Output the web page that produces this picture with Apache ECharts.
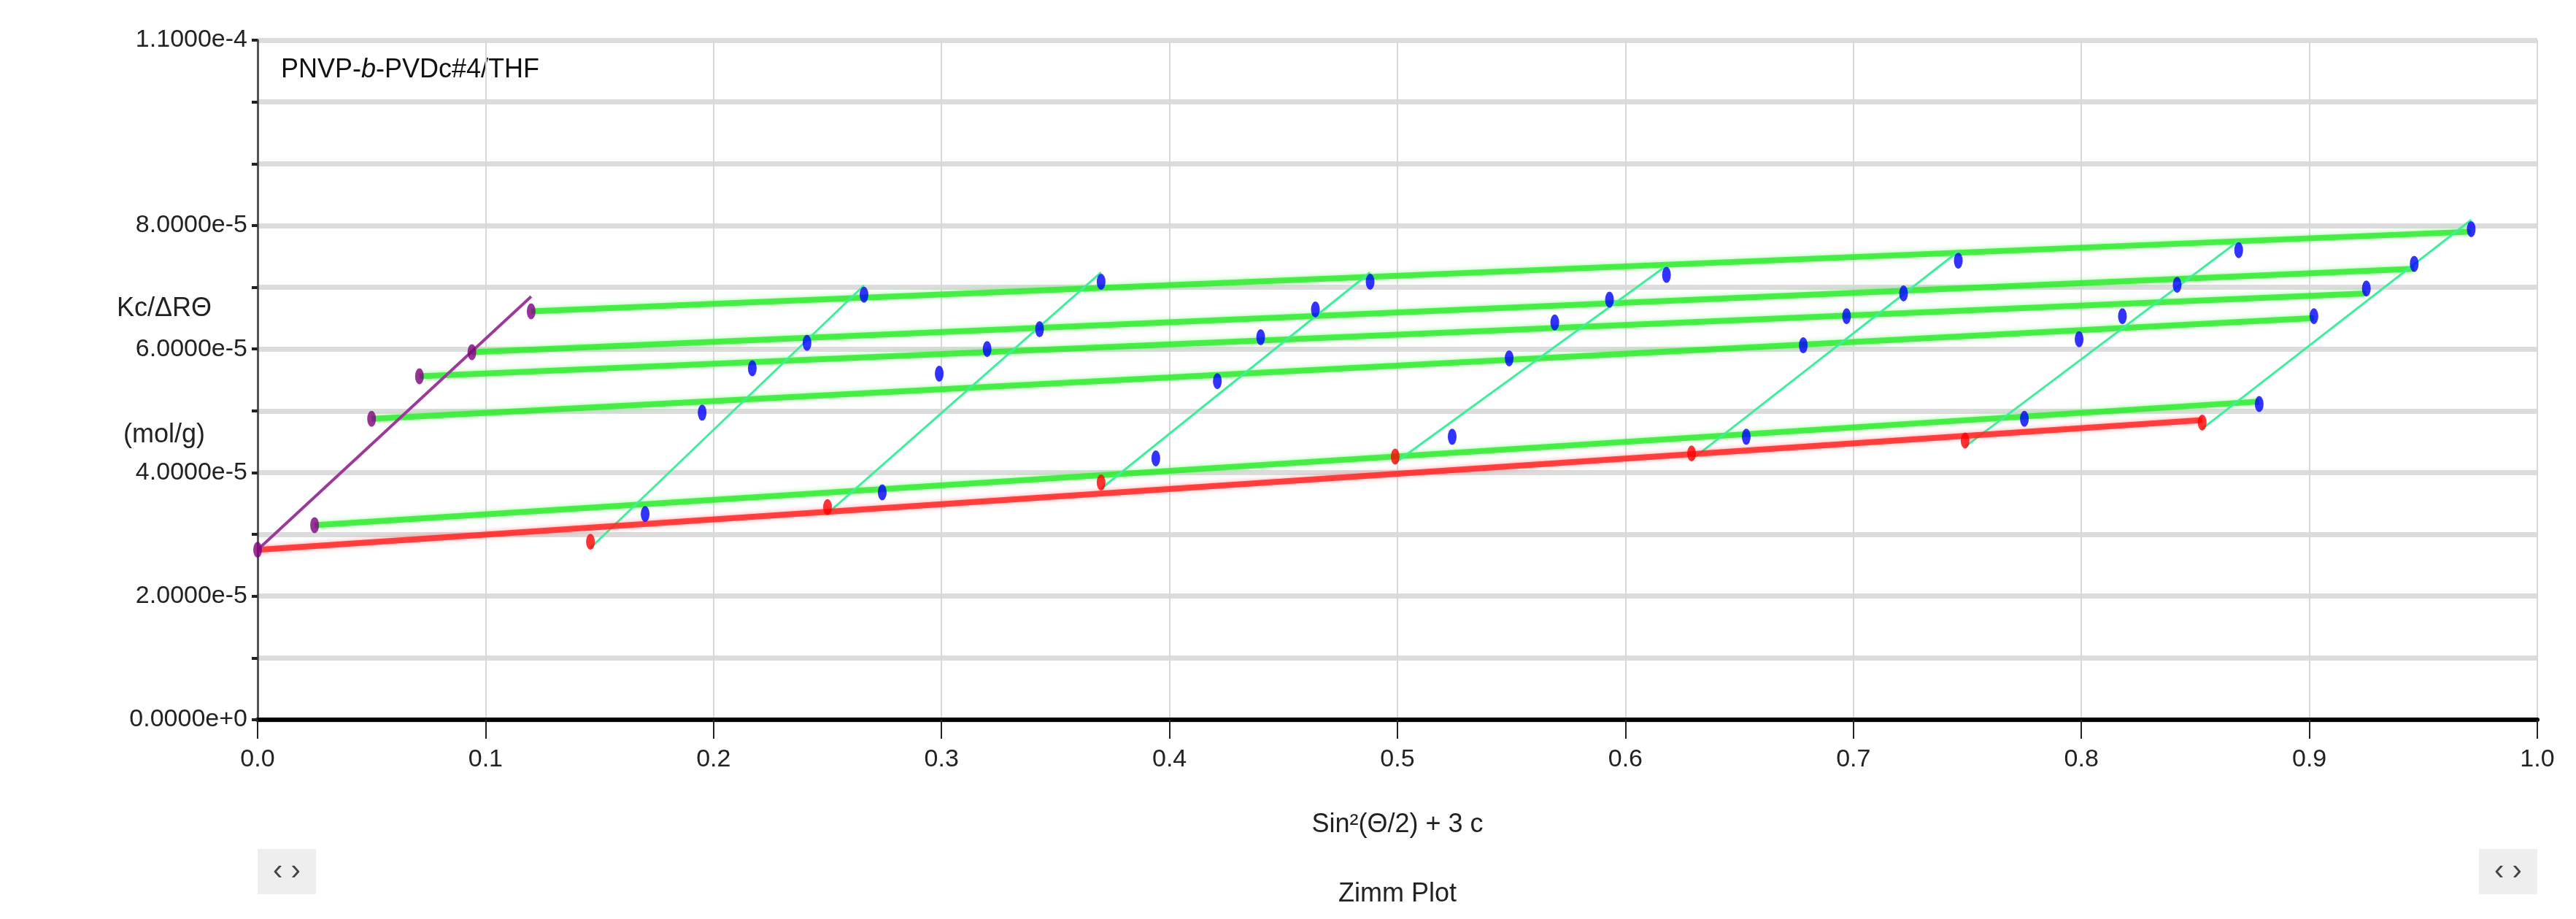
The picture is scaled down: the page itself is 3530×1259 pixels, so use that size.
<!DOCTYPE html>
<html>
<head>
<meta charset="utf-8">
<script src="https://cdn.jsdelivr.net/npm/echarts@6/dist/echarts.min.js"></script>
<style>html,body{margin:0;padding:0;background:#fff}#chart{width:3530px;height:1259px}</style>
</head>
<body>
<div id="chart"></div>
<script>
// values in units of 1e-5 mol/g
var redX = [0.146, 0.25, 0.37, 0.499, 0.629, 0.749, 0.853];
var redY = [2.88, 3.44, 3.84, 4.26, 4.31, 4.52, 4.81];
var purpleX = [0, 0.025, 0.05, 0.071, 0.094, 0.12];
var purpleY = [2.75, 3.15, 4.87, 5.56, 5.95, 6.61];
// blue points, one array per angle column (rows = concentrations 1..5)
var blueX = [
	[0.170, 0.195, 0.217, 0.241, 0.266],
	[0.274, 0.299, 0.320, 0.343, 0.370],
	[0.394, 0.421, 0.440, 0.464, 0.488],
	[0.524, 0.549, 0.569, 0.593, 0.618],
	[0.653, 0.678, 0.697, 0.722, 0.746],
	[0.775, 0.799, 0.818, 0.842, 0.869],
	[0.878, 0.902, 0.925, 0.946, 0.971]
];
var blueY = [
	[3.33, 4.97, 5.69, 6.10, 6.88],
	[3.68, 5.60, 6.00, 6.32, 7.09],
	[4.23, 5.48, 6.19, 6.64, 7.09],
	[4.58, 5.85, 6.43, 6.80, 7.20],
	[4.58, 6.06, 6.53, 6.90, 7.43],
	[4.87, 6.16, 6.53, 7.04, 7.60],
	[5.11, 6.53, 6.98, 7.38, 7.94]
];
// fitted lines
var redLine = [[0, 2.75], [0.853, 4.85]];
var purpleLine = [[0, 2.75], [0.12, 6.85]];
var rowEnd = [5.15, 6.50, 6.90, 7.30, 7.90];
var yLabelAt = [0, 2, 4, 6, 8, 11];

var E = 1e-5;
function pt(x, y) { return [x, y * E]; }

var series = [];
for (var r = 0; r < 5; r++) {
	series.push({
		type: 'line', symbol: 'none', silent: true, z: 2,
		lineStyle: { color: 'rgba(40,235,40,0.8)', width: 8, shadowColor: 'rgba(60,240,60,0.6)', shadowBlur: 6 },
		data: [pt(purpleX[r + 1], purpleY[r + 1]), pt(blueX[6][r], rowEnd[r])]
	});
}
for (var c = 0; c < 7; c++) {
	series.push({
		type: 'line', symbol: 'none', silent: true, z: 3,
		lineStyle: { color: '#3cf09a', width: 3 },
		data: [pt(redX[c], redY[c] - 0.1), pt(blueX[c][4], blueY[c][4] + 0.15)]
	});
}
series.push({
	type: 'line', symbol: 'none', silent: true, z: 3,
	lineStyle: { color: 'rgba(255,30,30,0.8)', width: 8, shadowColor: 'rgba(255,60,60,0.6)', shadowBlur: 6 },
	data: redLine.map(function (p) { return pt(p[0], p[1]); })
});
series.push({
	type: 'line', symbol: 'none', silent: true, z: 3,
	lineStyle: { color: '#9b3a9b', width: 4 },
	data: purpleLine.map(function (p) { return pt(p[0], p[1]); })
});
var blueData = [];
for (var c2 = 0; c2 < 7; c2++) {
	for (var r2 = 0; r2 < 5; r2++) blueData.push(pt(blueX[c2][r2], blueY[c2][r2]));
}
series.push({ type: 'scatter', symbol: 'circle', symbolSize: [12, 22], z: 5, itemStyle: { color: '#0000ff' }, data: blueData });
series.push({ type: 'scatter', symbol: 'circle', symbolSize: [12, 22], z: 5, itemStyle: { color: '#ff0000' },
	data: redX.map(function (x, i) { return pt(x, redY[i]); }) });
series.push({ type: 'scatter', symbol: 'circle', symbolSize: [12, 22], z: 5, itemStyle: { color: '#800080' },
	data: purpleX.map(function (x, i) { return pt(x, purpleY[i]); }) });

var font = 'Liberation Sans';
var fs = 34;
var chart = echarts.init(document.getElementById('chart'));
chart.setOption({
	animation: false,
	grid: { left: 353, right: 53, top: 55, bottom: 273 },
	xAxis: {
		type: 'value', min: 0, max: 1, interval: 0.1,
		axisLine: { lineStyle: { color: '#000', width: 6 } },
		axisTick: { show: true, length: 26, lineStyle: { color: '#222', width: 2 } },
		axisLabel: { margin: 38, color: '#222', fontSize: fs, fontFamily: font, formatter: function (v) { return v.toFixed(1); } },
		splitLine: { lineStyle: { color: '#d8d8d8', width: 2 } }
	},
	yAxis: {
		type: 'value', min: 0, max: 11 * E, interval: E,
		axisLine: { show: true, onZero: false, lineStyle: { color: '#555', width: 3 } },
		axisTick: { show: true, length: 8, lineStyle: { color: '#222', width: 4 } },
		axisLabel: {
			margin: 14, color: '#222', fontSize: fs, fontFamily: font,
			formatter: function (v) {
				var k = Math.round(v / E);
				if (yLabelAt.indexOf(k) < 0) return '';
				if (k === 0) return '0.0000e+0';
				if (k === 11) return '1.1000e-4';
				return k.toFixed(4) + 'e-5';
			}
		},
		splitLine: { lineStyle: { color: '#dcdcdc', width: 7 } }
	},
	graphic: [
		{ type: 'text', left: 385, top: 78, style: { text: '{n|PNVP-}{i|b}{n|-PVDc#4/THF}', rich: { n: { fontSize: 36, fontFamily: font, fill: '#111' }, i: { fontSize: 36, fontFamily: font, fontStyle: 'italic', fill: '#111' } } } },
		{ type: 'text', x: 225, y: 423, style: { text: 'Kc/ΔRΘ', fontSize: 36, fontFamily: font, fill: '#222', align: 'center', verticalAlign: 'middle' } },
		{ type: 'text', x: 225, y: 596, style: { text: '(mol/g)', fontSize: 36, fontFamily: font, fill: '#222', align: 'center', verticalAlign: 'middle' } },
		{ type: 'text', x: 1915, y: 1130, style: { text: 'Sin²(Θ/2) + 3 c', fontSize: 36, fontFamily: font, fill: '#222', align: 'center', verticalAlign: 'middle' } },
		{ type: 'text', x: 1915, y: 1225, style: { text: 'Zimm Plot', fontSize: 36, fontFamily: font, fill: '#222', align: 'center', verticalAlign: 'middle' } },
		{ type: 'rect', shape: { x: 353, y: 1163, width: 80, height: 62 }, style: { fill: '#eeeeee' } },
		{ type: 'text', x: 393, y: 1194, style: { text: '‹ ›', fontSize: 40, fontFamily: font, fill: '#444', align: 'center', verticalAlign: 'middle' } },
		{ type: 'rect', shape: { x: 3397, y: 1163, width: 80, height: 62 }, style: { fill: '#eeeeee' } },
		{ type: 'text', x: 3437, y: 1194, style: { text: '‹ ›', fontSize: 40, fontFamily: font, fill: '#444', align: 'center', verticalAlign: 'middle' } }
	],
	series: series
});
</script>
</body>
</html>
